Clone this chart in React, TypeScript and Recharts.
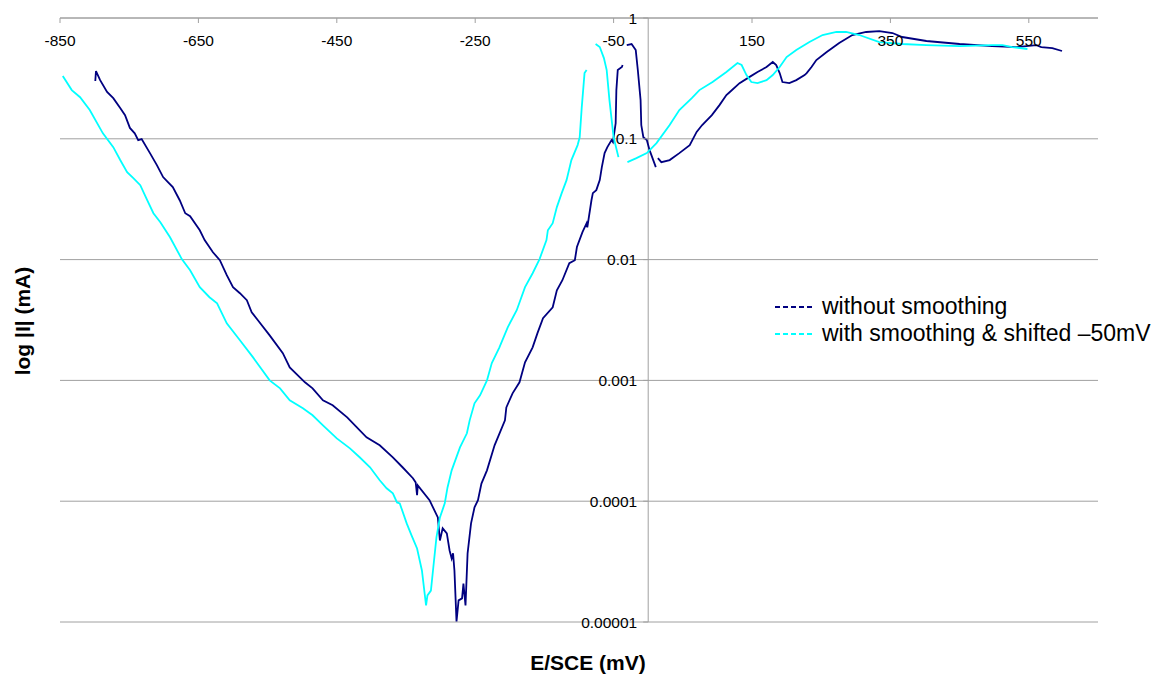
import React from 'react';
import { LineChart, Line, XAxis, YAxis, CartesianGrid, ReferenceLine, Legend } from 'recharts';

// ---- data ----
const seriesNames = ['without smoothing', 'with smoothing & shifted \u201350mV'];
const seriesColors = ['#000080', '#00FFFF'];

const xTicks = [-850, -650, -450, -250, -50, 150, 350, 550];
const yTicks = [0.00001, 0.0001, 0.001, 0.01, 0.1, 1];
const yTickLabels = ['0.00001', '0.0001', '0.001', '0.01', '0.1', '1'];

const rawE = [-799,-798,-792,-782,-773,-763,-756,-749,-742,-737,-732,-720,-710,-701,-694,-687,-677,-669,-662,-648,-641,-629,-619,-609,-600,-590,-580,-573,-564,-547,-528,-518,-496,-485,-470,-456,-435,-421,-407,-388,-369,-355,-340,-336,-334,-333,-316,-311,-304,-301,-297,-291,-287,-284,-282,-280,-277,-274,-269,-267,-264,-261,-256,-251,-246,-241,-233,-222,-207,-205,-196,-186,-178,-167,-160,-152,-138,-132,-124,-114,-106,-103,-95,-89,-88,-82,-80,-75,-70,-67,-63,-59,-53,-51,-47,-46,-44,-38,-37,-34,-31,-24,-18,-15,-11,-10,-7,-2,2,11,12,14,19,31,45,60,70,78,92,103,113,118,132,146,158,171,180,185,190,194,204,214,226,229,236,243,258,276,295,315,334,353,367,402,450,497,532,561,568,584,598];
const rawI = [0.301,0.364,0.306,0.244,0.217,0.180,0.157,0.123,0.111,0.0976,0.0995,0.0761,0.0605,0.0482,0.0438,0.0398,0.0310,0.0242,0.0229,0.0175,0.0145,0.0115,0.00989,0.00743,0.00591,0.00527,0.00461,0.00366,0.00315,0.00236,0.00168,0.00128,0.000964,0.000860,0.000684,0.000622,0.000494,0.000409,0.000338,0.000290,0.000231,0.000191,0.000155,0.000143,0.000112,0.000135,0.000102,0.0000889,0.0000734,0.0000473,0.0000596,0.0000541,0.0000391,0.0000336,0.0000370,0.0000267,0.0000101,0.0000151,0.0000157,0.0000208,0.0000137,0.0000370,0.0000655,0.0000889,0.000102,0.000140,0.000180,0.000290,0.000467,0.000598,0.000782,0.000964,0.00141,0.00188,0.00246,0.00327,0.00403,0.00557,0.00675,0.00933,0.00989,0.0127,0.0169,0.0200,0.0185,0.0310,0.0355,0.0376,0.0455,0.0583,0.0761,0.0853,0.0976,0.0939,0.135,0.253,0.371,0.393,0.408,null,0.597,0.609,0.543,0.371,0.209,0.130,0.103,0.0976,0.0806,0.0583,null,0.0692,0.0641,0.0667,0.0761,0.0887,0.114,0.130,0.157,0.190,0.230,0.244,0.289,0.324,0.357,0.393,0.432,0.408,0.350,0.295,0.289,0.306,0.337,0.350,0.393,0.449,0.523,0.621,0.723,0.766,0.780,0.751,0.696,0.645,0.609,0.586,0.575,0.597,0.575,0.564,0.533];

const smoothE = [-846,-833,-821,-807,-788,-773,-763,-753,-744,-734,-724,-715,-705,-691,-674,-662,-648,-634,-623,-609,-590,-571,-547,-532,-518,-499,-485,-470,-450,-431,-417,-402,-388,-378,-369,-363,-359,-349,-342,-334,-327,-321,-319,-314,-311,-306,-301,-294,-290,-284,-272,-262,-258,-251,-243,-233,-226,-215,-203,-190,-178,-167,-157,-147,-145,-138,-132,-125,-118,-111,-102,-99,-96,-92,-89,-83,-76,-70,-64,-60,-56,-50,-43,-36,-30,-17,-2,12,31,45,63,74,93,113,129,135,142,149,158,171,180,190,200,214,233,252,272,286,305,334,367,402,450,497,512,526,548];
const smoothI = [0.331,0.253,0.221,0.173,0.111,0.0853,0.0667,0.0530,0.0472,0.0413,0.0310,0.0242,0.0204,0.0153,0.0101,0.00817,0.00591,0.00488,0.00435,0.00297,0.00215,0.00155,0.00100,0.000860,0.000684,0.000587,0.000514,0.000425,0.000331,0.000274,0.000231,0.000191,0.000149,0.000128,0.000116,0.0000977,0.0000959,0.0000655,0.0000521,0.0000406,0.0000267,0.0000137,0.0000166,0.0000182,0.0000267,0.0000501,0.0000734,0.0000959,0.000130,0.000180,0.000279,0.000365,0.000467,0.000646,0.000753,0.00100,0.00139,0.00188,0.00275,0.00381,0.00591,0.00771,0.0101,0.0145,0.0175,0.0200,0.0272,0.0355,0.0455,0.0667,0.0887,0.103,0.183,0.350,0.371,null,0.609,0.575,0.466,0.371,0.209,0.103,0.0705,null,0.0641,0.0692,0.0761,0.0921,0.130,0.173,0.217,0.253,0.295,0.357,0.424,0.408,0.337,0.295,0.289,0.306,0.337,0.393,0.475,0.543,0.632,0.723,0.766,0.766,0.723,0.632,0.609,0.597,0.586,0.597,0.597,0.575,0.554];

const rawData = rawE.map((e, i) => ({ E: e, I: rawI[i] }));
const smoothData = smoothE.map((e, i) => ({ E: e, I: smoothI[i] }));

// ---- layout ----
const W = 1165;
const H = 675;
const X_MIN = -850;
const X_MAX = 650;
const PLOT_LEFT = 60;
const PLOT_RIGHT = 1098;
const M = { top: 17, left: 59, right: W - PLOT_RIGHT, bottom: 53 };
const PLOT_W = PLOT_RIGHT - PLOT_LEFT;
const X0 = PLOT_LEFT + ((0 - X_MIN) / (X_MAX - X_MIN)) * PLOT_W;
const FONT = 'Arial, "Liberation Sans", sans-serif';
const GRID = '#a0a0a0';

const XTick = (props: any) => {
  const { x, y, payload } = props;
  return (
    <g>
      <line x1={x} x2={x} y1={y} y2={y + 5} stroke={GRID} />
      <text x={x} y={y + 28} textAnchor="middle" fontSize={15.5} fontFamily={FONT} fill="#000">
        {payload.value}
      </text>
    </g>
  );
};

const YTick = (props: any) => {
  const { y, payload } = props;
  const idx = yTicks.indexOf(payload.value);
  const label = idx >= 0 ? yTickLabels[idx] : String(payload.value);
  return (
    <g>
      <line x1={X0 - 5} x2={X0} y1={y} y2={y} stroke={GRID} />
      <text x={X0 - 11} y={y + 5.5} textAnchor="end" fontSize={15.5} fontFamily={FONT} fill="#000">
        {label}
      </text>
    </g>
  );
};

const LegendContent = (props: any) => {
  const payload = [...(props.payload || [])].sort(
    (a: any, b: any) => seriesNames.indexOf(a.value) - seriesNames.indexOf(b.value)
  );
  return (
    <div style={{ fontFamily: FONT, fontSize: 23, color: '#000' }}>
      {payload.map((p: any, i: number) => (
        <div key={i} style={{ display: 'flex', alignItems: 'center', height: 27, whiteSpace: 'nowrap' }}>
          <svg width={38} height={4} style={{ marginRight: 9 }}>
            <line x1={0} y1={2} x2={38} y2={2} stroke={p.color} strokeWidth={2} strokeDasharray="5 3" />
          </svg>
          <span>{p.value}</span>
        </div>
      ))}
    </div>
  );
};

export default function App() {
  return (
    <div style={{ position: 'absolute', left: 0, top: 0, width: W, height: H, background: '#fff' }}>
      <LineChart width={W} height={H} margin={M}>
        <CartesianGrid horizontal={true} vertical={false} stroke={GRID} strokeWidth={1} />
        <XAxis
          dataKey="E"
          type="number"
          orientation="top"
          domain={[X_MIN, X_MAX]}
          ticks={xTicks}
          allowDataOverflow
          height={1}
          tickSize={0}
          tickMargin={0}
          tickLine={false}
          axisLine={{ stroke: GRID }}
          tick={<XTick />}
          interval={0}
        />
        <YAxis
          dataKey="I"
          type="number"
          scale="log"
          domain={[0.00001, 1]}
          ticks={yTicks}
          allowDataOverflow
          width={1}
          tickLine={false}
          axisLine={false}
          tick={<YTick />}
          interval={0}
        />
        <ReferenceLine x={0} stroke={GRID} />
        <Line
          data={rawData}
          dataKey="I"
          name={seriesNames[0]}
          stroke={seriesColors[0]}
          strokeWidth={1.8}
          dot={false}
          activeDot={false}
          isAnimationActive={false}
          type="linear"
        />
        <Line
          data={smoothData}
          dataKey="I"
          name={seriesNames[1]}
          stroke={seriesColors[1]}
          strokeWidth={1.8}
          dot={false}
          activeDot={false}
          isAnimationActive={false}
          type="linear"
        />
        <Legend
          layout="vertical"
          align="center"
          verticalAlign="middle"
          content={<LegendContent />}
          wrapperStyle={{ left: 775, top: 293, width: 390, bottom: 'auto', right: 'auto' }}
        />
      </LineChart>
      <div
        style={{
          position: 'absolute', left: 488, top: 651, width: 200, textAlign: 'center',
          fontFamily: FONT, fontWeight: 'bold', fontSize: 21, lineHeight: '24px', color: '#000',
        }}
      >
        E/SCE (mV)
      </div>
      <div
        style={{
          position: 'absolute', left: 23 - 100, top: 321 - 12, width: 200, textAlign: 'center',
          fontFamily: FONT, fontWeight: 'bold', fontSize: 21, lineHeight: '24px', color: '#000',
          transform: 'rotate(-90deg)',
        }}
      >
        log |I| (mA)
      </div>
    </div>
  );
}
